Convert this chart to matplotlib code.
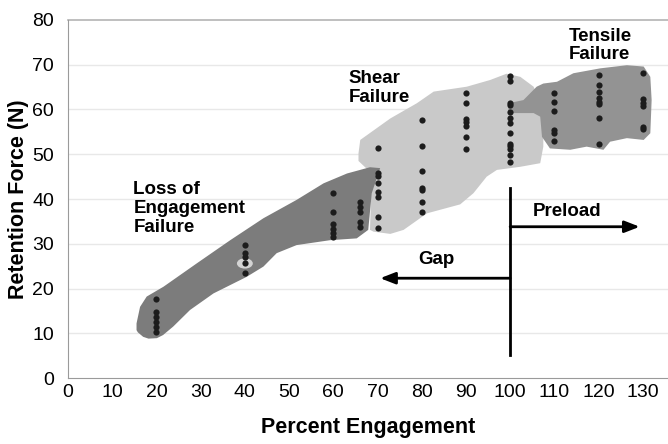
import matplotlib.pyplot as plt
from matplotlib.patches import Polygon, Ellipse

#-----------------------------------------------------------------------------#
# data

x_ticks = list(range(0, 131, 10))
y_ticks = list(range(0, 81, 10))

# retention force per engagement column
col_x = [20, 40, 60, 66, 70, 80, 90, 100, 110, 120, 130]
col_y = [
    [17.7, 14.7, 13.6, 12.5, 11.4, 10.3],
    [29.7, 28.0, 27.1, 25.6, 23.5],
    [41.4, 37.0, 34.4, 33.4, 32.5, 31.6],
    [39.4, 38.3, 37.2, 34.9, 33.8],
    [51.3, 45.7, 45.1, 43.6, 41.6, 40.4, 35.9, 33.5],
    [57.7, 51.8, 46.3, 42.5, 41.9, 39.4, 37.0],
    [63.6, 61.4, 57.9, 57.1, 56.4, 53.8, 51.2],
    [67.5, 66.4, 61.5, 61.0, 59.5, 58.0, 56.9, 54.7, 52.4, 51.8, 51.2,
     49.8, 48.3],
    [63.6, 61.7, 59.7, 55.4, 54.8, 53.0],
    [67.7, 65.5, 63.8, 62.5, 61.7, 61.2, 58.0, 52.3],
    [68.2, 62.3, 61.5, 60.8, 56.0, 55.6],
]
highlight = (40, 25.6)

# failure regions (outline in data units)
loss_region = [
    (15.5, 12.2), (16.3, 15.9), (17.8, 18.2), (21.6, 20.4), (29.1, 25.6),
    (36.7, 30.8), (44.2, 35.7), (51.7, 39.8), (57.8, 43.5), (63.1, 45.7),
    (68.3, 47.1), (70.6, 46.9), (68.7, 41.3), (67.9, 33.1), (65.3, 31.2),
    (59.3, 30.8), (51.7, 29.7), (47.2, 27.9), (44.2, 24.9), (40.4, 22.6),
    (32.9, 18.9), (27.6, 15.2), (23.8, 11.5), (21.5, 9.6), (20.1, 8.9),
    (18.2, 8.8), (17.0, 9.2), (15.8, 10.2), (15.5, 10.7),
]
shear_region = [
    (68.3, 33.1), (68.7, 45.7), (65.7, 48.5), (65.7, 50.2), (66.1, 53.2),
    (72.9, 58.0), (78.9, 61.4), (82.7, 64.0), (90.2, 65.1), (95.5, 66.6),
    (99.2, 68.0), (102.3, 67.3), (105.3, 65.1), (107.5, 60.0),
    (107.5, 51.7), (106.8, 48.0), (102.3, 47.2), (97.0, 46.5),
    (94.7, 45.0), (91.7, 41.3), (88.7, 38.8), (81.2, 36.8), (75.9, 33.1),
    (72.9, 32.2), (69.1, 32.7),
]
tensile_region = [
    (99.6, 61.4), (103.0, 62.1), (106.0, 65.1), (107.5, 65.8),
    (110.6, 66.2), (114.3, 68.1), (120.4, 69.2), (126.4, 69.9),
    (130.2, 69.6), (131.7, 67.3), (132.0, 62.1), (131.7, 54.7),
    (130.2, 53.2), (126.4, 53.6), (122.6, 52.8), (121.1, 51.0),
    (117.3, 51.7), (113.6, 51.0), (109.0, 51.3), (107.2, 53.9),
    (106.8, 58.4), (105.3, 59.2), (99.6, 59.2),
]

#-----------------------------------------------------------------------------#
# plot

plt.rcParams['font.family'] = ['Liberation Sans', 'DejaVu Sans']

fig = plt.figure(figsize=(6.68, 4.44), dpi=100)
ax = fig.add_axes([68 / 668, 66 / 444, 600 / 668, 358 / 444])
ax.set_xlim(0, 135.7)
ax.set_ylim(0, 80)

for y in y_ticks[1:-1]:
    ax.axhline(y, color='#e8e8e8', lw=1, zorder=0)
ax.axhline(80, color='#b4b4b4', lw=1.2, zorder=0, clip_on=False)

ax.add_patch(Polygon(shear_region, closed=True, fc='#c9c9c9', ec='none', zorder=1))
ax.add_patch(Polygon(loss_region, closed=True, fc='#7c7c7c', ec='none', zorder=2))
ax.add_patch(Polygon(tensile_region, closed=True, fc='#939393', ec='none', zorder=2))
ax.add_patch(Ellipse(highlight, 3.6, 2.3, fc='#d4d4d4', ec='none', zorder=3))

for x, ys in zip(col_x, col_y):
    ax.scatter([x] * len(ys), ys, s=20, color='#1c1c1c', zorder=4, lw=0)

# preload / gap markers
ax.plot([100, 100], [5.1, 42.4], color='black', lw=2, zorder=5)
arrow = dict(arrowstyle='-|>,head_length=0.9,head_width=0.35', color='black',
             lw=2, shrinkA=0, shrinkB=0)
ax.annotate('', xy=(129.3, 33.8), xytext=(100, 33.8), arrowprops=arrow, zorder=5)
ax.annotate('', xy=(70.6, 22.3), xytext=(100, 22.3), arrowprops=arrow, zorder=5)

lbl = dict(fontsize=13.5, fontweight='bold', linespacing=1.15, zorder=6)
ax.text(112.8, 37.3, 'Preload', ha='center', va='center', **lbl)
ax.text(83.4, 26.4, 'Gap', ha='center', va='center', **lbl)
ax.text(14.8, 37.9, 'Loss of\nEngagement\nFailure', ha='left', va='center', **lbl)
ax.text(63.4, 64.9, 'Shear\nFailure', ha='left', va='center', **lbl)
ax.text(113.3, 74.3, 'Tensile\nFailure', ha='left', va='center', **lbl)

ax.set_xticks(x_ticks)
ax.set_yticks(y_ticks)
ax.tick_params(length=0, labelsize=14, pad=4)
ax.tick_params(axis='y', pad=10)
for s in ['top', 'right']:
    ax.spines[s].set_visible(False)
for s in ['left', 'bottom']:
    ax.spines[s].set_color('#9a9a9a')

ax.set_xlabel('Percent Engagement', fontsize=15.5, fontweight='bold', labelpad=12)
ax.set_ylabel('Retention Force (N)', fontsize=15.5, fontweight='bold', labelpad=2)

fig.savefig('out.png', dpi=100)
